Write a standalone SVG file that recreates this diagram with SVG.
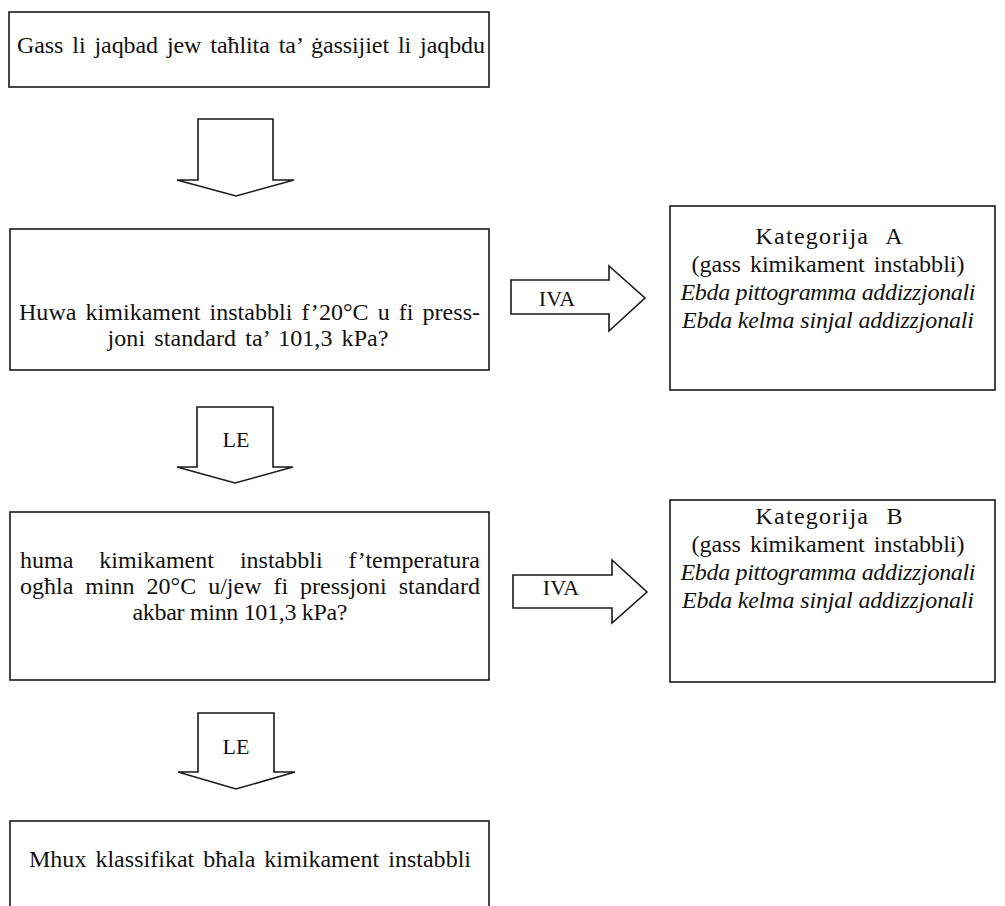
<svg xmlns="http://www.w3.org/2000/svg" width="1005" height="906" viewBox="0 0 1005 906">
<style>
.box{fill:#fff;stroke:#1a1a1a;stroke-width:1.6}
.arr{fill:#fff;stroke:#1a1a1a;stroke-width:1.6;stroke-linejoin:miter}
text{font-family:"Liberation Serif","Times New Roman",serif;font-size:24px;word-spacing:3px;fill:#111}
.c{text-anchor:middle}
.i{font-style:italic;word-spacing:0}
.lbl{font-size:22px;word-spacing:0}
</style>
<rect width="1005" height="906" fill="#fff"/>
<g id="connectors">
<polygon class="arr" points="198,119 273,119 273,180 294,180 236,196 177,180 198,180"/>
<polygon class="arr" points="511,280 609,280 609,266 645,298 609,331 609,314 511,314"/>
<text class="c lbl" x="557" y="306">IVA</text>
<polygon class="arr" points="197,407 273,407 273,467 293,467 235,483 177,467 197,467"/>
<text class="c lbl" x="236" y="447">LE</text>
<polygon class="arr" points="513,575 612,575 612,560 647,592 612,623 612,608 513,608"/>
<text class="c lbl" x="561" y="595">IVA</text>
<polygon class="arr" points="198,713 274,713 274,772 295,772 236,789 178,772 198,772"/>
<text class="c lbl" x="236" y="754">LE</text>
</g>
<g id="start">
<rect class="box" x="9" y="12" width="480" height="75"/>
<text x="17" y="53" textLength="468" lengthAdjust="spacing">Gass li jaqbad jew taħlita ta’ ġassijiet li jaqbdu</text>
</g>
<g id="q1">
<rect class="box" x="10" y="229" width="479" height="141"/>
<text x="19" y="320" textLength="461" lengthAdjust="spacing">Huwa kimikament instabbli f’20°C u fi press-</text>
<text class="c" x="248" y="346" textLength="281" lengthAdjust="spacing">joni standard ta’ 101,3 kPa?</text>
</g>
<g id="catA">
<rect class="box" x="670" y="206" width="325" height="184"/>
<text class="c" x="829" y="244" textLength="147" lengthAdjust="spacing" style="word-spacing:10px">Kategorija A</text>
<text class="c" x="828" y="272" textLength="273" lengthAdjust="spacing">(gass kimikament instabbli)</text>
<text class="c i" x="828" y="300" textLength="295" lengthAdjust="spacing">Ebda pittogramma addizzjonali</text>
<text class="c i" x="828" y="328" textLength="292" lengthAdjust="spacing">Ebda kelma sinjal addizzjonali</text>
</g>
<g id="q2">
<rect class="box" x="10" y="512" width="479" height="168"/>
<text x="20" y="568" textLength="460" lengthAdjust="spacing" style="word-spacing:20px">huma kimikament instabbli f’temperatura</text>
<text x="20" y="594" textLength="460" lengthAdjust="spacing" style="word-spacing:6px">ogħla minn 20°C u/jew fi pressjoni standard</text>
<text class="c" x="240" y="620" textLength="215" lengthAdjust="spacing" style="word-spacing:0">akbar minn 101,3 kPa?</text>
</g>
<g id="catB">
<rect class="box" x="670" y="500" width="325" height="182"/>
<text class="c" x="829" y="524" textLength="147" lengthAdjust="spacing" style="word-spacing:10px">Kategorija B</text>
<text class="c" x="828" y="552" textLength="273" lengthAdjust="spacing">(gass kimikament instabbli)</text>
<text class="c i" x="828" y="580" textLength="295" lengthAdjust="spacing">Ebda pittogramma addizzjonali</text>
<text class="c i" x="828" y="608" textLength="292" lengthAdjust="spacing">Ebda kelma sinjal addizzjonali</text>
</g>
<g id="notclassified">
<rect class="box" x="10" y="821" width="479" height="95"/>
<text class="c" x="250" y="867" textLength="442" lengthAdjust="spacing">Mhux klassifikat bħala kimikament instabbli</text>
</g>
</svg>
